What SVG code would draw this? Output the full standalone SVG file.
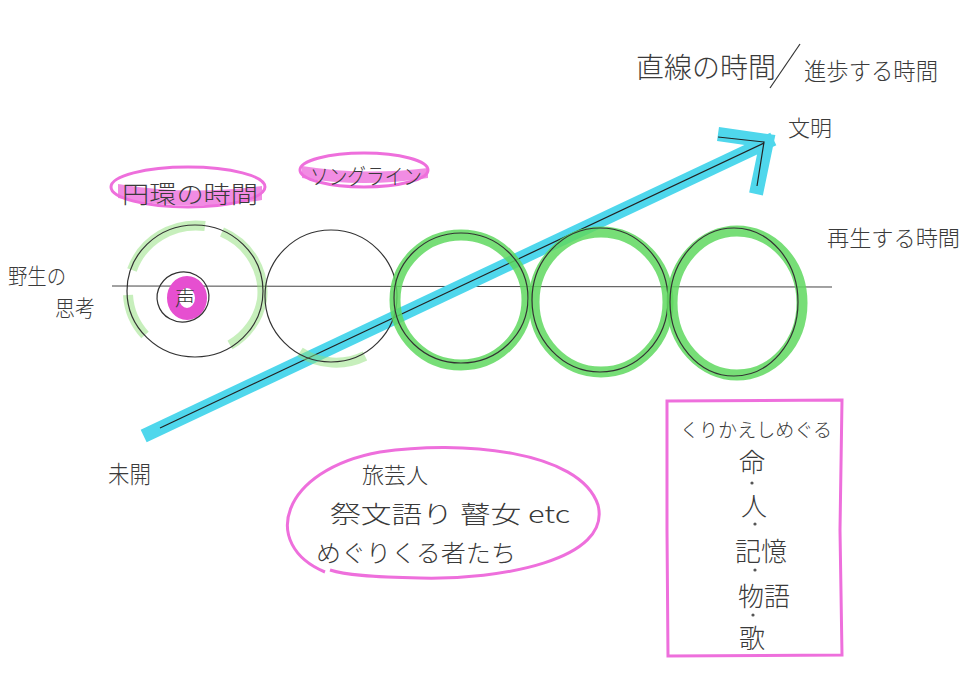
<svg xmlns="http://www.w3.org/2000/svg" width="970" height="680" viewBox="0 0 970 680">
<style>
.t{font-family:"Noto Sans CJK JP","Noto Sans",sans-serif;fill:#3a3a3a;font-weight:300}
.ink{fill:none;stroke:#333;stroke-width:1.2}
.gl{fill:none;stroke:#8fe07a;stroke-opacity:0.5;stroke-width:10}
.gs{fill:none;stroke:#5fd85f;stroke-opacity:0.85;stroke-width:11}
.pk{fill:none;stroke:#ee6fdc;stroke-width:3}
.dot{fill:#555}
</style>
<rect width="970" height="680" fill="#ffffff"/>

<g id="title">
<text class="t" x="636" y="78" font-size="28" textLength="140" lengthAdjust="spacingAndGlyphs">直線の時間</text>
<path d="M770 88 L800 44" class="ink"/>
<text class="t" x="804" y="80" font-size="24" textLength="134" lengthAdjust="spacingAndGlyphs">進歩する時間</text>
</g>

<g id="connectors">
<line x1="112" y1="286" x2="832" y2="287" stroke="#444" stroke-width="1"/>
<g id="arrow">
<line x1="150" y1="433" x2="767" y2="142" stroke="#4fd7ec" stroke-width="14" stroke-linecap="square"/>
<polyline points="718,134 767,141 756,194" fill="none" stroke="#4fd7ec" stroke-width="14" stroke-linejoin="miter"/>
<line x1="160" y1="428" x2="764" y2="143" stroke="#222" stroke-width="1.2"/>
<polyline points="718,137 764,142 757,186" fill="none" stroke="#222" stroke-width="1.2"/>
</g>
</g>

<g id="circle1">
<path d="M132 270 A68 66 0 0 1 205 226" class="gl"/>
<path d="M128 295 A68 66 0 0 0 145 335" class="gl"/>
<path d="M222 232 A68 66 0 0 1 262 300 A68 66 0 0 1 230 345" class="gl"/>
<ellipse cx="195" cy="291" rx="68" ry="66" class="ink"/>
</g>

<g id="voice">
<ellipse cx="187" cy="298" rx="14" ry="16" fill="none" stroke="#e64fd0" stroke-width="12"/>
<ellipse cx="183" cy="297" rx="26" ry="25" class="ink" transform="rotate(-15 183 297)"/>
<text class="t" x="185" y="306" font-size="20" text-anchor="middle">声</text>
</g>

<g id="circle2">
<path d="M300 352 A66 66 0 0 0 365 356" class="gl" stroke-opacity="0.25"/>
<ellipse cx="331" cy="296" rx="66" ry="66" class="ink"/>
</g>

<g id="circle3">
<ellipse cx="461" cy="300" rx="66" ry="65" class="gs"/>
<ellipse cx="461" cy="298" rx="67" ry="65" class="ink"/>
</g>

<g id="circle4">
<ellipse cx="601" cy="302" rx="67" ry="70" class="gs"/>
<ellipse cx="600" cy="300" rx="68" ry="72" class="ink"/>
</g>

<g id="circle5">
<ellipse cx="737" cy="303" rx="65" ry="72" class="gs"/>
<ellipse cx="734" cy="302" rx="64" ry="74" class="ink"/>
</g>

<g id="label-civilization">
<text class="t" x="788" y="136" font-size="22" textLength="44" lengthAdjust="spacingAndGlyphs">文明</text>
</g>

<g id="label-cyclic">
<path d="M118 198 Q188 212 262 200 L262 186 Q188 196 118 184 Z" fill="#ee6fdc" fill-opacity="0.8"/>
<ellipse cx="188" cy="187" rx="77" ry="20" class="pk"/>
<text class="t" x="122" y="203" font-size="24" textLength="136" lengthAdjust="spacingAndGlyphs">円環の時間</text>
</g>

<g id="label-songline">
<path d="M302 178 Q364 188 428 178 L428 168 Q364 176 302 166 Z" fill="#ee6fdc" fill-opacity="0.8"/>
<ellipse cx="364" cy="170" rx="64" ry="17" class="pk"/>
<text class="t" x="310" y="184" font-size="22" textLength="112" lengthAdjust="spacingAndGlyphs">ソングライン</text>
</g>

<g id="label-wild">
<text class="t" x="8" y="284" font-size="22" textLength="58" lengthAdjust="spacingAndGlyphs">野生の</text>
<text class="t" x="55" y="316" font-size="22" textLength="40" lengthAdjust="spacingAndGlyphs">思考</text>
</g>

<g id="label-regen">
<text class="t" x="827" y="246" font-size="22" textLength="133" lengthAdjust="spacingAndGlyphs">再生する時間</text>
</g>

<g id="label-primitive">
<text class="t" x="108" y="483" font-size="24" textLength="43" lengthAdjust="spacingAndGlyphs">未開</text>
</g>

<g id="travelers">
<path d="M325 572 C 260 545, 280 470, 380 452 C 460 440, 580 450, 598 505 C 612 560, 500 580, 420 578 C 370 577, 345 575, 330 570" class="pk"/>
<text class="t" x="362" y="483" font-size="22" textLength="66" lengthAdjust="spacingAndGlyphs">旅芸人</text>
<text class="t" x="330" y="523" font-size="24" textLength="240" lengthAdjust="spacingAndGlyphs">祭文語り 瞽女 etc</text>
<text class="t" x="316" y="562" font-size="24" textLength="200" lengthAdjust="spacingAndGlyphs">めぐりくる者たち</text>
</g>

<g id="repeating">
<path d="M667 401 L842 400 L840 530 L842 655 L668 656 L667 530 Z" class="pk"/>
<text class="t" x="680" y="437" font-size="19" textLength="152" lengthAdjust="spacingAndGlyphs">くりかえしめぐる</text>
<g text-anchor="middle">
<text class="t" x="752" y="472" font-size="26">命</text>
<text class="t" x="754" y="516" font-size="26">人</text>
<text class="t" x="761" y="561" font-size="26">記憶</text>
<text class="t" x="764" y="606" font-size="26">物語</text>
<text class="t" x="752" y="648" font-size="26">歌</text>
</g>
<circle class="dot" cx="752" cy="483" r="1.6"/>
<circle class="dot" cx="755" cy="524" r="1.6"/>
<circle class="dot" cx="755" cy="570" r="1.6"/>
<circle class="dot" cx="753" cy="615" r="1.6"/>
</g>
</svg>
